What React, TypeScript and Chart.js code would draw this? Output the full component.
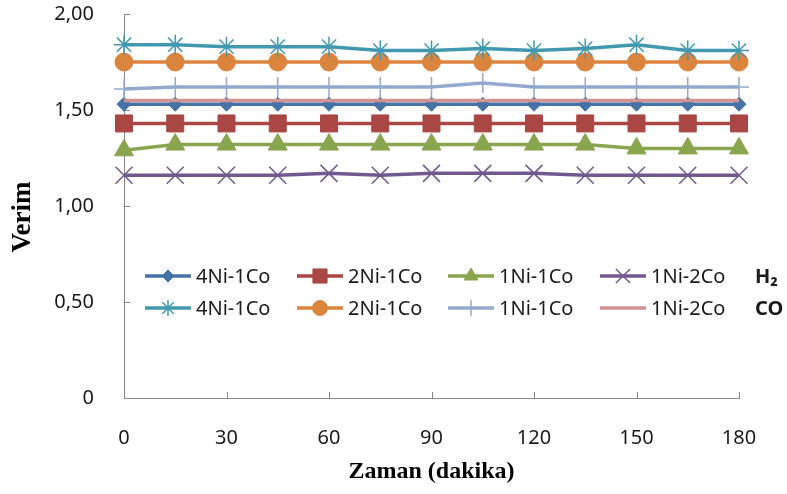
import React, { useEffect, useRef } from 'react';
import { Chart, registerables } from 'chart.js';
import { drawPoint } from 'chart.js/helpers';

Chart.register(...registerables);

// ---- data ----
const TIMES = [0, 15, 30, 45, 60, 75, 90, 105, 120, 135, 150, 165, 180];
const X_TICKS = [0, 30, 60, 90, 120, 150, 180];
const Y_TICKS = [0, 0.5, 1, 1.5, 2];
const GROUP_LABELS = ['H₂', 'CO'];

const H2_4Ni1Co = [1.53, 1.53, 1.53, 1.53, 1.53, 1.53, 1.53, 1.53, 1.53, 1.53, 1.53, 1.53, 1.53];
const H2_2Ni1Co = [1.43, 1.43, 1.43, 1.43, 1.43, 1.43, 1.43, 1.43, 1.43, 1.43, 1.43, 1.43, 1.43];
const H2_1Ni1Co = [1.29, 1.32, 1.32, 1.32, 1.32, 1.32, 1.32, 1.32, 1.32, 1.32, 1.30, 1.30, 1.30];
const H2_1Ni2Co = [1.16, 1.16, 1.16, 1.16, 1.17, 1.16, 1.17, 1.17, 1.17, 1.16, 1.16, 1.16, 1.16];
const CO_4Ni1Co = [1.84, 1.84, 1.83, 1.83, 1.83, 1.81, 1.81, 1.82, 1.81, 1.82, 1.84, 1.81, 1.81];
const CO_2Ni1Co = [1.75, 1.75, 1.75, 1.75, 1.75, 1.75, 1.75, 1.75, 1.75, 1.75, 1.75, 1.75, 1.75];
const CO_1Ni1Co = [1.61, 1.62, 1.62, 1.62, 1.62, 1.62, 1.62, 1.64, 1.62, 1.62, 1.62, 1.62, 1.62];
const CO_1Ni2Co = [1.55, 1.55, 1.55, 1.55, 1.55, 1.55, 1.55, 1.55, 1.55, 1.55, 1.55, 1.55, 1.55];

const X_TITLE = 'Zaman (dakika)';
const Y_TITLE = 'Verim';

// ---- styles ----
const AXIS_COLOR = '#868686';
const TEXT_COLOR = '#1a1a1a';
const SANS = '"Noto Sans", sans-serif';
const SERIF = '"Liberation Serif", "Times New Roman", serif';
const TICK_SIZE = 20;

type Spec = {
  label: string;
  values: number[];
  color: string;
  style: any;
  radius: number;
  legendRadius: number;
  pbw: number;
  order: number;
};

const SPECS: Spec[] = [
  { label: '4Ni-1Co', values: H2_4Ni1Co, color: '#4572A7', style: 'rectRot', radius: 7, legendRadius: 6, pbw: 1, order: 1 },
  { label: '2Ni-1Co', values: H2_2Ni1Co, color: '#AA4643', style: 'rect', radius: 12, legendRadius: 10, pbw: 1, order: 1 },
  { label: '1Ni-1Co', values: H2_1Ni1Co, color: '#89A54E', style: 'triangle', radius: 11, legendRadius: 8, pbw: 1, order: 1 },
  { label: '1Ni-2Co', values: H2_1Ni2Co, color: '#71588F', style: 'crossRot', radius: 12, legendRadius: 10, pbw: 1.5, order: 1 },
  { label: '4Ni-1Co', values: CO_4Ni1Co, color: '#4198AF', style: 'star', radius: 10, legendRadius: 8, pbw: 1.5, order: 0 },
  { label: '2Ni-1Co', values: CO_2Ni1Co, color: '#DB843D', style: 'circle', radius: 9, legendRadius: 7.5, pbw: 1, order: 0 },
  { label: '1Ni-1Co', values: CO_1Ni1Co, color: '#93A9CF', style: 'cross', radius: 10, legendRadius: 8, pbw: 1.5, order: 0 },
  { label: '1Ni-2Co', values: CO_1Ni2Co, color: '#D19392', style: 'circle', radius: 0, legendRadius: 0, pbw: 0, order: 0 },
];

const insideTicks = {
  id: 'insideTicks',
  beforeDatasetsDraw(chart: any) {
    const { ctx, scales } = chart;
    const x = scales.x;
    const y = scales.y;
    ctx.save();
    ctx.strokeStyle = AXIS_COLOR;
    ctx.lineWidth = 1;
    ctx.beginPath();
    X_TICKS.forEach((v) => {
      if (v === 0) return;
      const px = Math.round(x.getPixelForValue(v)) + 0.5;
      ctx.moveTo(px, y.bottom);
      ctx.lineTo(px, y.bottom - 6);
    });
    Y_TICKS.forEach((v) => {
      if (v === 0) return;
      const py = Math.round(y.getPixelForValue(v)) + 0.5;
      ctx.moveTo(x.left, py);
      ctx.lineTo(x.left + 6, py);
    });
    ctx.stroke();
    ctx.restore();
  },
};

const yTitle = {
  id: 'yTitle',
  afterDraw(chart: any) {
    const ctx = chart.ctx;
    ctx.save();
    ctx.translate(23, 217);
    ctx.rotate(-Math.PI / 2);
    ctx.fillStyle = '#000';
    ctx.font = `bold 27px ${SERIF}`;
    ctx.textAlign = 'center';
    ctx.textBaseline = 'middle';
    ctx.fillText(Y_TITLE, 0, 0);
    ctx.restore();
  },
};

const innerLegend = {
  id: 'innerLegend',
  afterDraw(chart: any) {
    const ctx = chart.ctx;
    const cols = [145, 297, 448, 600];
    const rows = [276, 308];
    const sampleLen = 46;
    chart.data.datasets.forEach((ds: any, i: number) => {
      const r = Math.floor(i / 4);
      const c = i % 4;
      const x0 = cols[c];
      const y0 = rows[r];
      ctx.save();
      ctx.strokeStyle = ds.borderColor;
      ctx.lineWidth = ds.borderWidth;
      ctx.beginPath();
      ctx.moveTo(x0, y0);
      ctx.lineTo(x0 + sampleLen, y0);
      ctx.stroke();
      if (ds.legendRadius > 0) {
        ctx.fillStyle = ds.pointBackgroundColor;
        ctx.strokeStyle = ds.pointBorderColor;
        ctx.lineWidth = ds.pointBorderWidth;
        drawPoint(ctx, { pointStyle: ds.pointStyle, radius: ds.legendRadius, rotation: 0, borderWidth: ds.pointBorderWidth } as any, x0 + sampleLen / 2, y0);
      }
      ctx.fillStyle = TEXT_COLOR;
      ctx.font = `${TICK_SIZE}px ${SANS}`;
      ctx.textAlign = 'left';
      ctx.textBaseline = 'middle';
      ctx.fillText(ds.label, x0 + sampleLen + 5, y0 + 1);
      ctx.restore();
    });
    ctx.save();
    ctx.fillStyle = TEXT_COLOR;
    ctx.font = `bold ${TICK_SIZE}px ${SANS}`;
    ctx.textAlign = 'left';
    ctx.textBaseline = 'middle';
    GROUP_LABELS.forEach((t, r) => ctx.fillText(t, 755, rows[r] + 1));
    ctx.restore();
  },
};

export default function App() {
  const ref = useRef<HTMLCanvasElement | null>(null);

  useEffect(() => {
    document.body.style.margin = '0';
    const canvas = ref.current;
    if (!canvas) return;
    const chart = new Chart(canvas, {
      type: 'line',
      data: {
        labels: TIMES,
        datasets: SPECS.map((s) => ({
          label: s.label,
          data: s.values.map((v, i) => ({ x: TIMES[i], y: v })),
          borderColor: s.color,
          backgroundColor: s.color,
          borderWidth: 3.5,
          pointStyle: s.style,
          pointRadius: s.radius,
          pointHoverRadius: s.radius,
          pointBackgroundColor: s.color,
          pointBorderColor: s.color,
          pointBorderWidth: s.pbw,
          legendRadius: s.legendRadius,
          tension: 0,
          fill: false,
          order: s.order,
          clip: false,
        })) as any,
      },
      options: {
        responsive: false,
        animation: false,
        events: [],
        layout: { padding: { top: 14, right: 48, left: 0, bottom: 0 } },
        plugins: {
          legend: { display: false },
          tooltip: { enabled: false },
          title: { display: false },
        },
        scales: {
          x: {
            type: 'linear',
            min: 0,
            max: 180,
            afterBuildTicks: (scale: any) => {
              scale.ticks = X_TICKS.map((v) => ({ value: v }));
            },
            afterFit: (scale: any) => {
              scale.height = 96;
              scale.paddingLeft = 0;
              scale.paddingRight = 0;
            },
            grid: { display: false },
            border: { display: true, color: AXIS_COLOR, width: 1 },
            ticks: {
              color: TEXT_COLOR,
              font: { family: SANS, size: TICK_SIZE },
              padding: 20,
              maxRotation: 0,
              autoSkip: false,
            },
            title: {
              display: true,
              text: X_TITLE,
              color: '#000',
              font: { family: SERIF, size: 24, weight: 'bold' },
              padding: { top: 0, bottom: 8 },
            },
          },
          y: {
            type: 'linear',
            min: 0,
            max: 2,
            afterBuildTicks: (scale: any) => {
              scale.ticks = Y_TICKS.map((v) => ({ value: v }));
            },
            afterFit: (scale: any) => {
              scale.width = 124;
              scale.paddingTop = 0;
              scale.paddingBottom = 0;
            },
            grid: { display: false },
            border: { display: true, color: AXIS_COLOR, width: 1 },
            ticks: {
              color: TEXT_COLOR,
              font: { family: SANS, size: TICK_SIZE },
              padding: 22,
              callback: (v: any) => (Number(v) === 0 ? '0' : Number(v).toFixed(2).replace('.', ',')),
            },
            title: { display: false },
          },
        },
      },
      plugins: [insideTicks, innerLegend, yTitle],
    });
    return () => chart.destroy();
  }, []);

  return (
    <div style={{ width: 787, height: 494, background: '#fff' }}>
      <canvas ref={ref} width={787} height={494} style={{ display: 'block', width: 787, height: 494 }} />
    </div>
  );
}
